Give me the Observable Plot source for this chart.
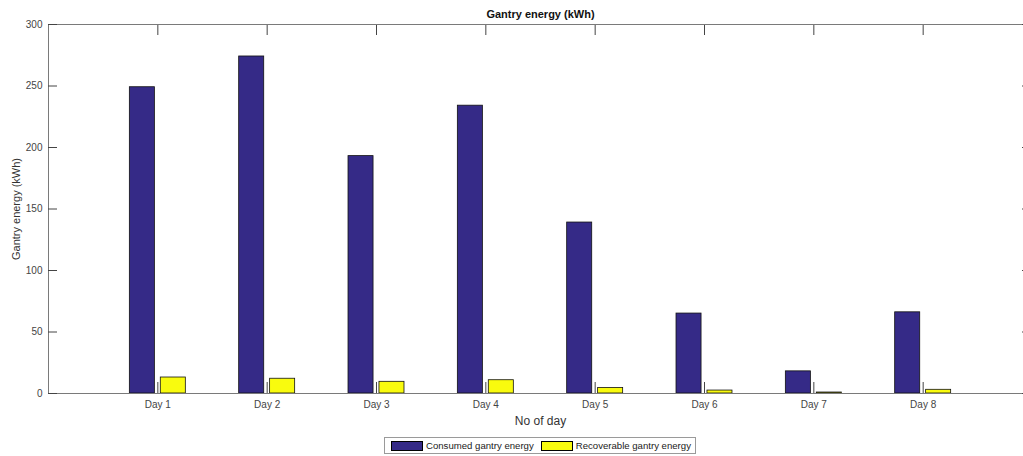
<!DOCTYPE html>
<html>
<head>
<meta charset="utf-8">
<script src="https://cdn.jsdelivr.net/npm/d3@7"></script>
<script src="https://cdn.jsdelivr.net/npm/@observablehq/plot@0.6"></script>
<style>
  html, body { margin: 0; padding: 0; background: #fff; }
  body { position: relative; width: 1023px; height: 456px; overflow: hidden; font-family: "Liberation Sans", Arial, sans-serif; }
  #chart { width: 1023px; overflow: hidden; }
  #legend { position: absolute; left: 384px; top: 437px; height: 17px; border: 1px solid #9a9a9a; background: #fff;
            display: flex; align-items: center; font-size: 9.6px; color: #222; padding: 0 4px 0 6px; box-sizing: border-box; }
  .sw { width: 32px; height: 10px; border: 1px solid #000; box-sizing: border-box; margin-right: 3px; }
  .lab { margin-right: 7px; white-space: nowrap; }
  .lab:last-child { margin-right: 0; }
</style>
</head>
<body>
<div id="chart"></div>
<script>
const days = ["Day 1", "Day 2", "Day 3", "Day 4", "Day 5", "Day 6", "Day 7", "Day 8"];
const consumed = [249, 274, 193, 234, 139, 65, 18, 66];
const recoverable = [13, 12, 9.5, 10.8, 4.5, 2.4, 0.8, 3];
const seriesNames = ["Consumed gantry energy", "Recoverable gantry energy"];
const seriesColors = ["#352a87", "#f9fb0e"];
const yTicks = [0, 50, 100, 150, 200, 250, 300];
const chartTitle = "Gantry energy (kWh)";
const yLabel = "Gantry energy (kWh)";
const xLabel = "No of day";

// bar layout in category units (MATLAB grouped bar look)
const barHalf = 0.1145, barOff = 0.1415;
const rows = [];
days.forEach((d, i) => {
  const c = i + 1;
  rows.push({day: d, series: seriesNames[0], value: consumed[i], x1: c - barOff - barHalf, x2: c - barOff + barHalf});
  rows.push({day: d, series: seriesNames[1], value: recoverable[i], x1: c + barOff - barHalf, x2: c + barOff + barHalf});
});

const axisColor = "#7a7a7a";
const plot = Plot.plot({
  width: 1040,
  height: 432,
  marginTop: 24,
  marginBottom: 39,
  marginLeft: 48,
  marginRight: 8,
  style: {fontFamily: "'Liberation Sans', Arial, sans-serif", fontSize: "10px", color: "#333", background: "#fff", maxWidth: "none"},
  x: {type: "linear", domain: [0, 9]},
  y: {domain: [0, 300]},
  color: {domain: seriesNames, range: seriesColors},
  marks: [
    Plot.rectY(rows, {x1: "x1", x2: "x2", y1: 0, y2: "value", fill: "series", stroke: "#111", strokeWidth: 0.8}),
    Plot.frame({stroke: axisColor, strokeWidth: 1}),
    Plot.axisY({anchor: "left", ticks: yTicks, tickSize: -9, tickPadding: 15, label: null, stroke: "#444", fill: "#444", fontSize: 10}),
    Plot.axisY({anchor: "right", ticks: yTicks, tickSize: -11, tickFormat: () => "", label: null, stroke: "#444"}),
    Plot.axisX({anchor: "bottom", ticks: d3.range(1, days.length + 1), tickSize: -11, tickPadding: 18,
                tickFormat: d => days[d - 1], label: null, stroke: "#444", fill: "#444", fontSize: 10}),
    Plot.axisX({anchor: "top", ticks: d3.range(1, days.length + 1), tickSize: -10, tickFormat: () => "", label: null, stroke: "#444"}),
    Plot.text([chartTitle], {frameAnchor: "top", dy: -10, text: d => d, fontWeight: "bold", fontSize: 11, fill: "#111", lineAnchor: "middle"}),
    Plot.text([yLabel], {frameAnchor: "left", dx: -32, text: d => d, rotate: -90, textAnchor: "middle", lineAnchor: "middle", fontSize: 11, fill: "#333"}),
    Plot.text([xLabel], {frameAnchor: "bottom", dy: 28, text: d => d, textAnchor: "middle", lineAnchor: "middle", fontSize: 12, fill: "#333"})
  ]
});
document.getElementById("chart").appendChild(plot);

const legend = document.createElement("div");
legend.id = "legend";
seriesNames.forEach((n, i) => {
  const sw = document.createElement("span");
  sw.className = "sw";
  sw.style.background = seriesColors[i];
  const lab = document.createElement("span");
  lab.className = "lab";
  lab.textContent = n;
  legend.appendChild(sw);
  legend.appendChild(lab);
});
document.body.appendChild(legend);
</script>
</body>
</html>
